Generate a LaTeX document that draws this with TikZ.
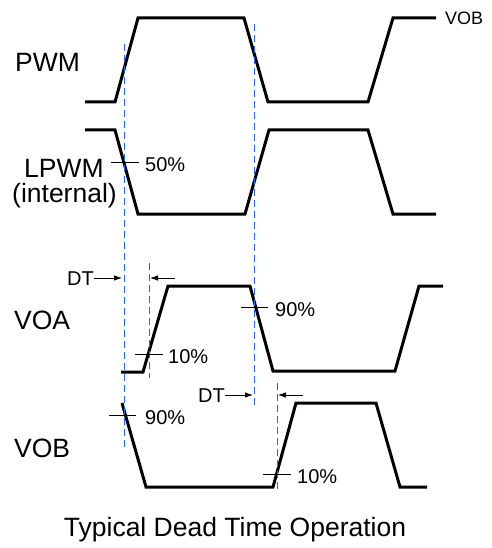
\documentclass[tikz,border=0pt]{standalone}
\usepackage{fontspec}
\setmainfont{Liberation Sans}
\usetikzlibrary{arrows.meta}
\definecolor{dtblue}{RGB}{40,100,240}

\begin{document}
\begin{tikzpicture}[
        x=1pt, y=-1pt,
        wave/.style={line width=3pt, line join=miter},
        guide/.style={dtblue, line width=1pt, dash pattern=on 7pt off 4pt},
        tickmark/.style={line width=0.8pt},
        sig/.style={anchor=base west, inner sep=0pt, font=\fontsize{26.5}{30}\selectfont},
        pct/.style={anchor=base west, inner sep=0pt, font=\fontsize{20}{24}\selectfont},
        >={Latex[length=8pt,width=5.5pt]}
    ]
    \useasboundingbox (0,0) rectangle (491,548);

    % Signal names
    \node[sig] (pwm) at (15,72) {PWM};
    \node[sig] (lpwm) at (24,178) {LPWM};
    \node[sig] (internal) at (12,202) {(internal)};
    \node[sig] (voa) at (14,329) {VOA};
    \node[sig] (vob) at (14,457) {VOB};
    \node[pct, font=\fontsize{18}{22}\selectfont] (vobtop) at (445,25) {VOB};

    % Waveforms
    \draw[wave] (85,102) -- (115,102) -- (138,18) -- (244,18) -- (268,102)
        -- (368,102) -- (393,18) -- (436,18);
    \draw[wave] (85,130) -- (115,130) -- (138,214) -- (245,214) -- (269,130)
        -- (368,130) -- (393,214) -- (436,214);
    \draw[wave] (121,372) -- (143,372) -- (168,286) -- (250,286) -- (273,371)
        -- (395,371) -- (419,286) -- (443,286);
    \draw[wave] (122,403) -- (146,487) -- (273,487) -- (296,403) -- (376,403)
        -- (400,487) -- (427,487);

    % Dead time guides
    \coordinate (g1top) at (124,44);  \coordinate (g1bot) at (124,448);
    \coordinate (g2top) at (254,24);  \coordinate (g2bot) at (254,408);
    \coordinate (g3top) at (149,263); \coordinate (g3bot) at (149,378);
    \coordinate (g4top) at (277,383); \coordinate (g4bot) at (277,490);
    \draw[guide] (g1top) -- (g1bot);
    \draw[guide] (g2top) -- (g2bot);
    \draw[guide] (g3top) -- (g3bot);
    \draw[guide] (g4top) -- (g4bot);

    % Threshold marks
    \draw[tickmark] (111,162) -- (139,162);
    \node[pct] (p50) at (145,171.5) {50\%};
    \draw[tickmark] (135,354) -- (163,354);
    \node[pct] (a10) at (168,363.5) {10\%};
    \draw[tickmark] (241,307) -- (268,307);
    \node[pct] (a90) at (275,316.5) {90\%};
    \draw[tickmark] (109,415) -- (136,415);
    \node[pct] (b90) at (145,424.5) {90\%};
    \draw[tickmark] (263,474) -- (291,474);
    \node[pct] (b10) at (297,483.5) {10\%};

    % DT arrows
    \node[pct] (dta) at (67,285) {DT};
    \coordinate (dta1) at (122,278);
    \coordinate (dta2) at (175,278); \coordinate (dta3) at (150,278);
    \draw[tickmark, ->] (dta.east |- dta1) -- (dta1);
    \draw[tickmark, ->] (dta2) -- (dta3);
    \node[pct] (dtb) at (198,402) {DT};
    \coordinate (dtb1) at (253,395);
    \coordinate (dtb2) at (303,395); \coordinate (dtb3) at (278,395);
    \draw[tickmark, ->] (dtb.east |- dtb1) -- (dtb1);
    \draw[tickmark, ->] (dtb2) -- (dtb3);

    % Caption
    \node[sig, anchor=base] (caption) at (235,536) {Typical Dead Time Operation};
\end{tikzpicture}
\end{document}
